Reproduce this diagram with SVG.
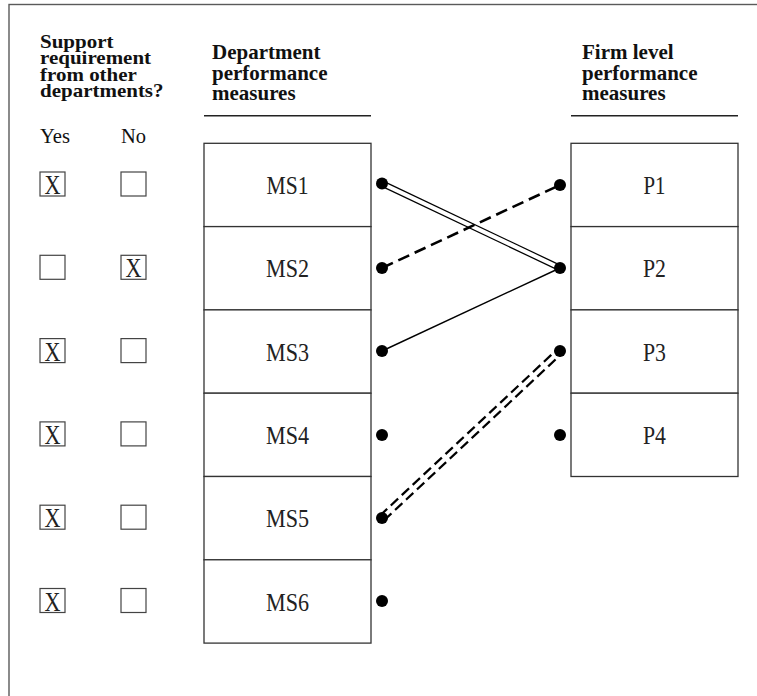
<svg xmlns="http://www.w3.org/2000/svg" width="757" height="696" viewBox="0 0 757 696">
<style>
.frame{fill:none;stroke:#5a5a5a;stroke-width:1.4}
.box{fill:#fff;stroke:#333;stroke-width:1.3}
.cb{fill:#fff;stroke:#444;stroke-width:1.2}
.rule{stroke:#222;stroke-width:1.5}
.hd{font-family:"Liberation Serif","Times New Roman",serif;font-weight:bold;font-size:21px;fill:#111}
.yn{font-family:"Liberation Serif","Times New Roman",serif;font-size:22px;fill:#111}
.lbl{font-family:"Liberation Serif","Times New Roman",serif;font-size:26px;fill:#222;text-anchor:middle}
.x{font-family:"Liberation Serif","Times New Roman",serif;font-size:28px;fill:#222;text-anchor:middle}
.dot{fill:#000}
</style>
<rect class="frame" x="9" y="4.5" width="800" height="800"/>

<g id="header-support">
<g transform="translate(40,0) scale(1,0.85)">
<text class="hd" x="0" y="56.5">Support</text>
<text class="hd" x="0" y="75.5">requirement</text>
<text class="hd" x="0" y="94.8">from other</text>
<text class="hd" x="0" y="114">departments?</text>
</g>
<text class="yn" x="40" y="143" textLength="30" lengthAdjust="spacingAndGlyphs">Yes</text>
<text class="yn" x="121" y="143" textLength="25" lengthAdjust="spacingAndGlyphs">No</text>
</g>
<g id="header-dept">
<text class="hd" x="212" y="59">Department</text>
<text class="hd" x="212" y="79.5">performance</text>
<text class="hd" x="212" y="100">measures</text>
<line class="rule" x1="204" y1="115.7" x2="371" y2="115.7"/>
</g>
<g id="header-firm">
<text class="hd" x="582" y="59">Firm level</text>
<text class="hd" x="582" y="79.5">performance</text>
<text class="hd" x="582" y="100">measures</text>
<line class="rule" x1="571" y1="115.7" x2="738" y2="115.7"/>
</g>

<g id="checkboxes">
<g id="cb1"><rect class="cb" x="40" y="172" width="25" height="24"/><text class="x" x="52.5" y="194" textLength="16" lengthAdjust="spacingAndGlyphs">X</text><rect class="cb" x="121" y="172" width="25" height="24"/></g>
<g id="cb2"><rect class="cb" x="40" y="255.3" width="25" height="24"/><rect class="cb" x="121" y="255.3" width="25" height="24"/><text class="x" x="133.5" y="277.3" textLength="16" lengthAdjust="spacingAndGlyphs">X</text></g>
<g id="cb3"><rect class="cb" x="40" y="338.6" width="25" height="24"/><text class="x" x="52.5" y="360.6" textLength="16" lengthAdjust="spacingAndGlyphs">X</text><rect class="cb" x="121" y="338.6" width="25" height="24"/></g>
<g id="cb4"><rect class="cb" x="40" y="421.9" width="25" height="24"/><text class="x" x="52.5" y="443.9" textLength="16" lengthAdjust="spacingAndGlyphs">X</text><rect class="cb" x="121" y="421.9" width="25" height="24"/></g>
<g id="cb5"><rect class="cb" x="40" y="505.2" width="25" height="24"/><text class="x" x="52.5" y="527.2" textLength="16" lengthAdjust="spacingAndGlyphs">X</text><rect class="cb" x="121" y="505.2" width="25" height="24"/></g>
<g id="cb6"><rect class="cb" x="40" y="588.5" width="25" height="24"/><text class="x" x="52.5" y="610.5" textLength="16" lengthAdjust="spacingAndGlyphs">X</text><rect class="cb" x="121" y="588.5" width="25" height="24"/></g>
</g>

<g id="connectors" fill="none">
<line x1="382" y1="183.5" x2="560" y2="268" stroke="#000" stroke-width="6.5"/>
<line x1="382" y1="183.5" x2="560" y2="268" stroke="#fff" stroke-width="4"/>
<line x1="382" y1="268" x2="560" y2="185" stroke="#000" stroke-width="2.6" stroke-dasharray="12,6"/>
<line x1="382" y1="351" x2="560" y2="268" stroke="#000" stroke-width="1.4"/>
<line x1="382" y1="518" x2="560" y2="351" stroke="#000" stroke-width="8.5" stroke-dasharray="10,5"/>
<line x1="382" y1="518" x2="560" y2="351" stroke="#fff" stroke-width="4"/>
</g>

<g id="MS1"><rect class="box" x="204" y="143.3" width="167" height="83.3"/><text class="lbl" x="287.5" y="194" textLength="42" lengthAdjust="spacingAndGlyphs">MS1</text><circle class="dot" cx="382" cy="183.5" r="6"/></g>
<g id="MS2"><rect class="box" x="204" y="226.6" width="167" height="83.3"/><text class="lbl" x="287.5" y="277.3" textLength="43" lengthAdjust="spacingAndGlyphs">MS2</text><circle class="dot" cx="382" cy="268" r="6"/></g>
<g id="MS3"><rect class="box" x="204" y="309.9" width="167" height="83.3"/><text class="lbl" x="287.5" y="360.6" textLength="43" lengthAdjust="spacingAndGlyphs">MS3</text><circle class="dot" cx="382" cy="351" r="6"/></g>
<g id="MS4"><rect class="box" x="204" y="393.2" width="167" height="83.3"/><text class="lbl" x="287.5" y="443.9" textLength="43" lengthAdjust="spacingAndGlyphs">MS4</text><circle class="dot" cx="382" cy="435" r="6"/></g>
<g id="MS5"><rect class="box" x="204" y="476.5" width="167" height="83.3"/><text class="lbl" x="287.5" y="527.2" textLength="43" lengthAdjust="spacingAndGlyphs">MS5</text><circle class="dot" cx="382" cy="518" r="6"/></g>
<g id="MS6"><rect class="box" x="204" y="559.8" width="167" height="83.3"/><text class="lbl" x="287.5" y="610.5" textLength="43" lengthAdjust="spacingAndGlyphs">MS6</text><circle class="dot" cx="382" cy="601" r="6"/></g>

<g id="P1"><rect class="box" x="571" y="143.3" width="167" height="83.3"/><text class="lbl" x="654.5" y="194" textLength="22" lengthAdjust="spacingAndGlyphs">P1</text><circle class="dot" cx="560" cy="185" r="6"/></g>
<g id="P2"><rect class="box" x="571" y="226.6" width="167" height="83.3"/><text class="lbl" x="654.5" y="277.3" textLength="23" lengthAdjust="spacingAndGlyphs">P2</text><circle class="dot" cx="560" cy="268" r="6"/></g>
<g id="P3"><rect class="box" x="571" y="309.9" width="167" height="83.3"/><text class="lbl" x="654.5" y="360.6" textLength="23" lengthAdjust="spacingAndGlyphs">P3</text><circle class="dot" cx="560" cy="351" r="6"/></g>
<g id="P4"><rect class="box" x="571" y="393.2" width="167" height="83.3"/><text class="lbl" x="654.5" y="443.9" textLength="23" lengthAdjust="spacingAndGlyphs">P4</text><circle class="dot" cx="560" cy="435" r="6"/></g>
</svg>
